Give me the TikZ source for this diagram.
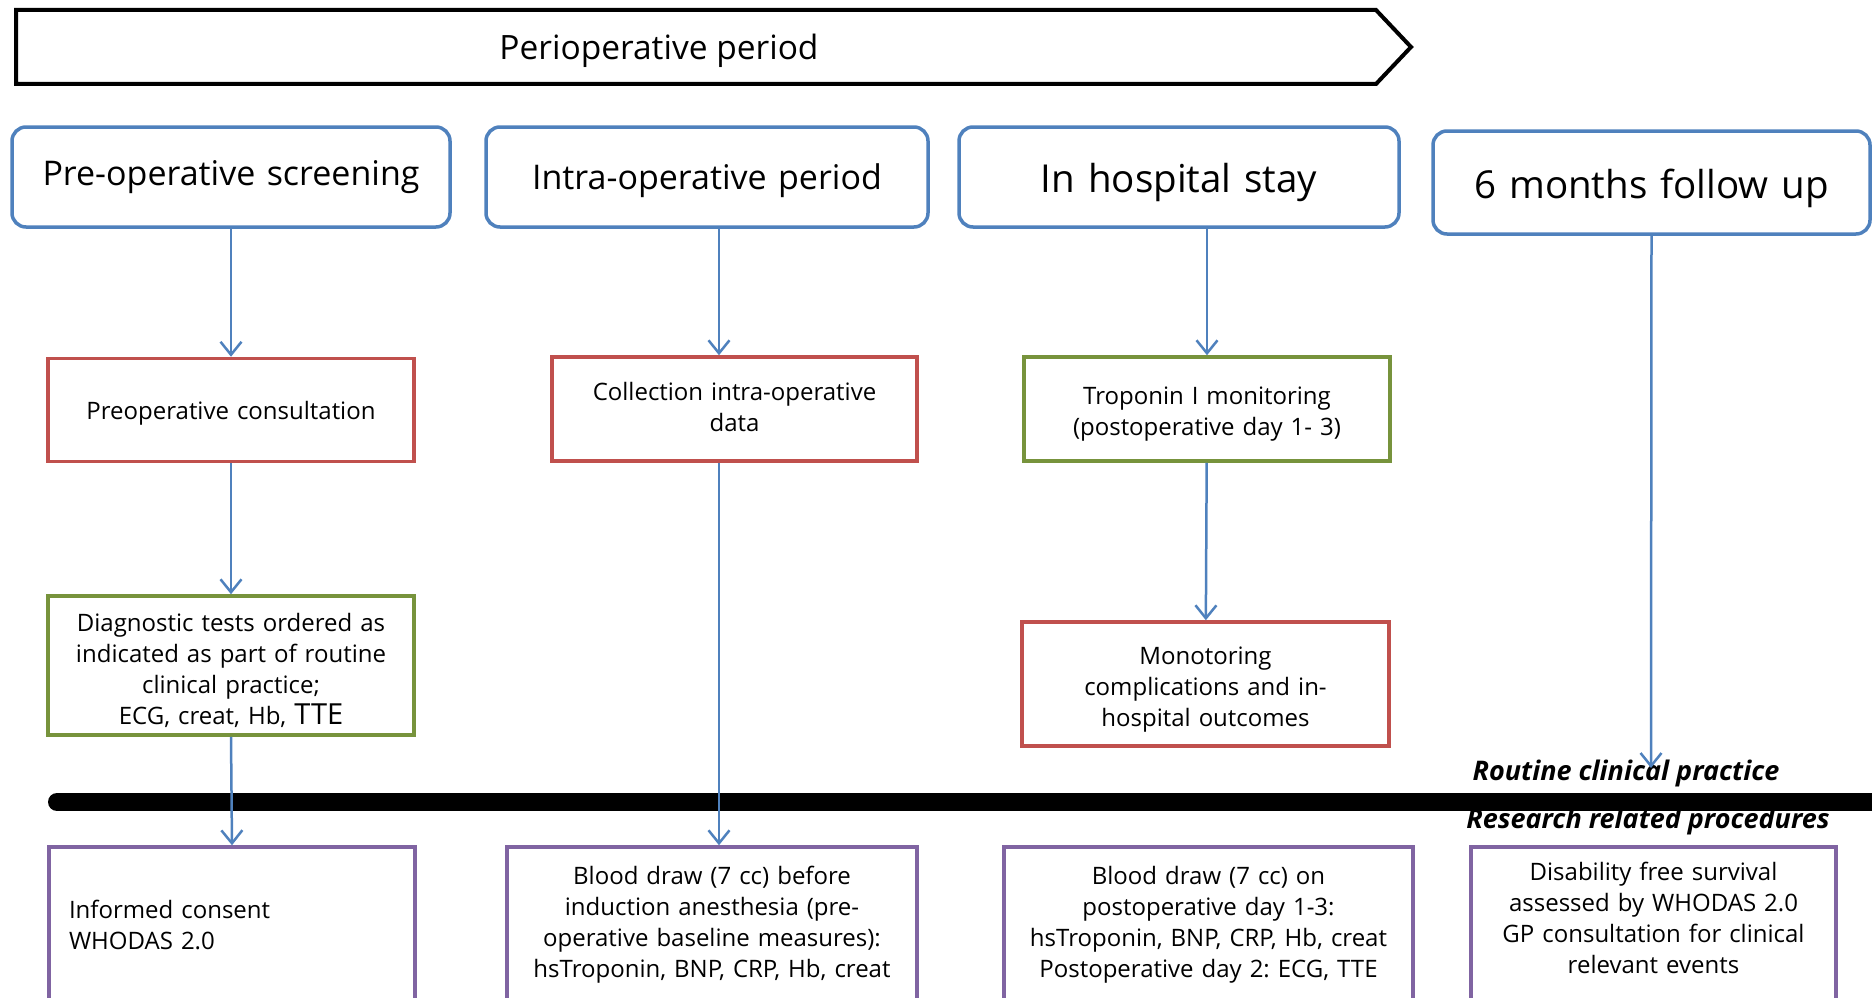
\documentclass[tikz,border=0pt]{standalone}
\usepackage{fontspec}
\setmainfont{Open Sans}
\usetikzlibrary{arrows.meta}
\usetikzlibrary{positioning}
\definecolor{hdrblue}{RGB}{79,129,189}
\definecolor{boxred}{RGB}{192,80,77}
\definecolor{boxgreen}{RGB}{119,147,60}
\definecolor{boxpurple}{RGB}{128,100,162}
\tikzset{%
	phase/.style={draw=hdrblue,line width=3.5pt,rounded corners=14pt,fill=white,inner sep=0pt,align=center,text width=420pt,minimum width=438pt,minimum height=100pt,font=\fontsize{34}{40}\selectfont},
	bigphase/.style={phase,font=\fontsize{38.5}{44}\selectfont},
	stepred/.style={draw=boxred,line width=3.5pt,inner sep=0pt,minimum width=366pt,minimum height=103pt,align=center,text width=350pt,font=\fontsize{24}{31}\selectfont},
	stepgreen/.style={stepred,draw=boxgreen},
	stepviolet/.style={stepred,draw=boxpurple,minimum height=155pt},
	nudgeup/.style={execute at end node={\vspace*{#1}}},
	flow/.style={draw=hdrblue,line width=2.5pt,-{Straight Barb[length=13pt,width=21pt]}},
	divlabel/.style={anchor=base,font=\fontsize{27}{30}\selectfont\bfseries\itshape},
}
\frenchspacing

\begin{document}
\begin{tikzpicture}[x=1pt,y=-1pt]
	\useasboundingbox (0,0) rectangle (1872,998);
	\clip (0,0) rectangle (1872,998);
	\draw[line width=4pt] (16,10) -- (1376,10) -- (1411,47) -- (1376,84) -- (16,84) -- cycle;
	\node[font=\fontsize{33.5}{40}\selectfont] (periop) at (659,51) {Perioperative period};

	\node[phase] (hdrpre) at (231,177) {Pre-operative screening};
	\node[phase,text height=33pt,minimum width=442pt] (hdrintra) at (707,177) {Intra-operative period};
	\node[bigphase,text height=41.2pt,minimum width=440pt] (hdrstay) at (1179,177) {In hospital stay};
	\node[bigphase,text height=41.4pt,minimum width=437pt,minimum height=103pt] (hdrfollow) at (1651.5,182.5) {6 months follow up};

	\node[stepred,text height=25.4pt] (consult) at (231,410) {Preoperative consultation};
	\node[stepred,nudgeup=5pt,minimum width=365pt,minimum height=104pt] (collect) at (734.5,409) {Collection intra-operative\\data};
	\node[stepgreen,text height=27.8pt,minimum height=104pt] (tropo) at (1207,409) {Troponin I monitoring\\(postoperative day 1- 3)};
	\node[stepgreen,text height=27.8pt,minimum height=139pt] (diagtest) at (231,665.5) {Diagnostic tests ordered as\\indicated as part of routine\\clinical practice;\\ECG, creat, Hb, {\fontsize{29}{31}\selectfont TTE}};
	\node[stepred,text height=27.8pt,minimum width=367pt,minimum height=124pt] (outcome) at (1205.5,684) {Monotoring\\complications and in-\\hospital outcomes};

	\node[divlabel] (routine) at (1626,780) {Routine clinical practice};
	\node[divlabel] (research) at (1648,828) {Research related procedures};
	\coordinate (barwest) at (57,802);
	\coordinate (bareast) at (1890,802);
	\draw[line width=18pt,line cap=round] (barwest) -- (bareast);

	\node[stepviolet,align=left,text width=326pt] (consent) at (232,924.5) {Informed consent\\WHODAS 2.0};
	\node[stepviolet,minimum width=410pt,text width=395pt] (bloodpre) at (712,924.5) {Blood draw (7 cc) before\\induction anesthesia (pre-\\operative baseline measures):\\hsTroponin, BNP, CRP, Hb, creat};
	\node[stepviolet,minimum width=409pt,text width=395pt] (bloodpost) at (1208.5,924.5) {Blood draw (7 cc) on\\postoperative day 1-3:\\hsTroponin, BNP, CRP, Hb, creat\\Postoperative day 2: ECG, TTE};
	\node[stepviolet,nudgeup=14pt,minimum width=365pt] (survival) at (1653.5,924.5) {Disability free survival\\assessed by WHODAS 2.0\\GP consultation for clinical\\relevant events};

	\coordinate (intraline) at (719,0);
	\coordinate (followend) at (1651,768);
	\draw[flow] (hdrpre) -- (consult);
	\draw[flow] (consult) -- (diagtest);
	\draw[flow] (diagtest.south) -- (consent.north);
	\draw[flow] (hdrintra.south -| intraline) -- (collect.north -| intraline);
	\draw[flow] (collect.south -| intraline) -- (bloodpre.north -| intraline);
	\draw[flow] (hdrstay.south -| tropo) -- (tropo.north);
	\draw[flow] (tropo) -- (outcome);
	\draw[flow] (hdrfollow.south) -- (followend);
\end{tikzpicture}
\end{document}
